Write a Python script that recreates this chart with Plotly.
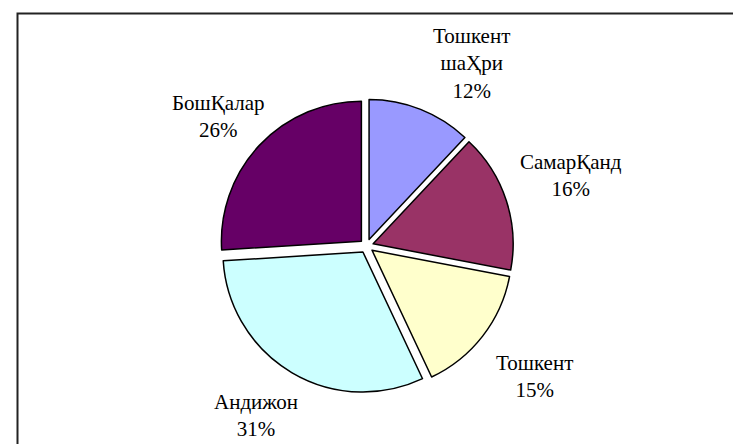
import math
import plotly.graph_objects as go

labels = ["Тошкент<br>шаҲри", "СамарҚанд", "Тошкент", "Андижон", "БошҚалар"]
values = [12, 16, 15, 31, 26]
colors = ["#9999FF", "#993366", "#FFFFCC", "#CCFFFF", "#660066"]

W, H = 741, 444
cx, cy, r = 368, 244, 141   # label ring centre / radius in pixels

fig = go.Figure()
fig.add_trace(go.Pie(
    labels=labels, values=values, sort=False, direction="clockwise", rotation=0,
    pull=[0.05] * len(values),
    marker=dict(colors=colors, line=dict(color="black", width=1.5)),
    textinfo="none",
    domain=dict(x=[0.1872, 0.7804], y=[0.1329, 0.795]),
    showlegend=False, hoverinfo="label+percent",
))

# data labels outside the slices, Excel style
total = sum(values)
acc = 0
for lab, v in zip(labels, values):
    mid = (acc + v / 2) / total * 2 * math.pi
    acc += v
    s, c = math.sin(mid), math.cos(mid)
    px = cx + 1.06 * r * s
    py = cy - 1.12 * r * c
    xa = "left" if s > 0.3 else ("right" if s < -0.3 else "center")
    ya = "bottom" if c > 0.25 else ("top" if c < -0.25 else "middle")
    fig.add_annotation(x=px / W, y=1 - py / H, xref="paper", yref="paper",
                       text="%s<br>%d%%" % (lab, round(v / total * 100)),
                       showarrow=False, xanchor=xa, yanchor=ya, align="center",
                       font=dict(family="Liberation Serif", size=21, color="black"))

fig.add_shape(type="rect", xref="paper", yref="paper",
              x0=9.5 / W, x1=1.05, y0=-0.05, y1=1 - 5.5 / H,
              line=dict(color="#222222", width=2))

fig.update_layout(width=W, height=H, margin=dict(l=0, r=0, t=0, b=0),
                  paper_bgcolor="white", plot_bgcolor="white")
fig.write_html("out.html")
